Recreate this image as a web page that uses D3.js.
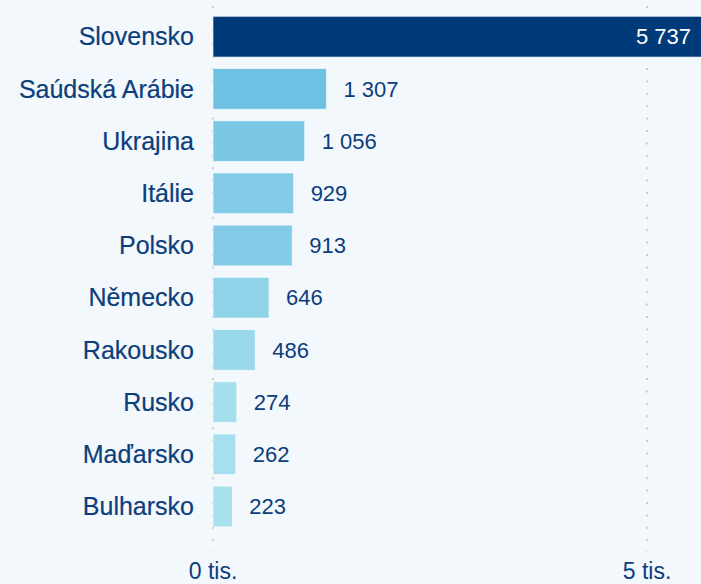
<!DOCTYPE html>
<html><head><meta charset="utf-8">
<script src="https://cdn.jsdelivr.net/npm/d3@7"></script>
<style>html,body{margin:0;padding:0;background:#f3f8fd;}svg{display:block;}</style>
</head><body><div id="chart"></div>
<script>
const categories = ["Slovensko","Saúdská Arábie","Ukrajina","Itálie","Polsko","Německo","Rakousko","Rusko","Maďarsko","Bulharsko"];
const values = [5737,1307,1056,929,913,646,486,274,262,223];
const tickValues = [0,5000];
const tickLabels = ["0 tis.","5 tis."];

const W = 701, H = 584;
const svg = d3.select("#chart").append("svg").attr("width",W).attr("height",H)
  .style("font-family","'Liberation Sans', Arial, sans-serif");
svg.append("rect").attr("width",W).attr("height",H).attr("fill","#f3f8fd");

const x = d3.scaleLinear().domain([0,5000]).range([213,647]);
const y = d3.scaleBand().domain(categories).range([10.6,532.6]).paddingInner(0.22).paddingOuter(0.11);
const col = d3.scaleLinear().domain([223,1307]).range(["#a8e0ee","#6ec1e4"]).clamp(true);
const txt = "#0c3e7c";

// grid
svg.append("g").selectAll("line").data(tickValues).join("line")
  .attr("x1",d=>x(d)).attr("x2",d=>x(d)).attr("y1",6).attr("y2",552)
  .attr("stroke","#c9cdd2").attr("stroke-width",2).attr("stroke-dasharray","2,10.4");

// bars
svg.append("g").selectAll("rect").data(values).join("rect")
  .attr("x",x(0)).attr("y",(d,i)=>y(categories[i]))
  .attr("width",d=>x(d)-x(0)).attr("height",y.bandwidth())
  .attr("fill",(d,i)=>i===0?"#003a78":col(d))
  .attr("stroke","#ffffff").attr("stroke-opacity",0.6).attr("stroke-width",1);

// category labels
svg.append("g").selectAll("text").data(categories).join("text")
  .attr("x",194).attr("y",d=>y(d)+y.bandwidth()/2).attr("dy","0.35em")
  .attr("text-anchor","end").attr("font-size",25).attr("fill",txt)
  .attr("stroke",txt).attr("stroke-width",0.2).text(d=>d);

const fmt = v => d3.format(",")(v).replace(/,/g," ");
// value labels
svg.append("g").selectAll("text").data(values).join("text")
  .attr("x",(d)=> x(d)>W ? W-10 : x(d)+17)
  .attr("y",(d,i)=>y(categories[i])+y.bandwidth()/2).attr("dy","0.35em")
  .attr("text-anchor",d=> x(d)>W ? "end":"start")
  .attr("font-size",22).attr("fill",d=> x(d)>W ? "#ffffff":txt).text(fmt);

// axis labels
svg.append("g").selectAll("text").data(tickValues).join("text")
  .attr("x",d=>x(d)).attr("y",579).attr("text-anchor","middle")
  .attr("font-size",23).attr("fill",txt).text((d,i)=>tickLabels[i]);
</script></body></html>
